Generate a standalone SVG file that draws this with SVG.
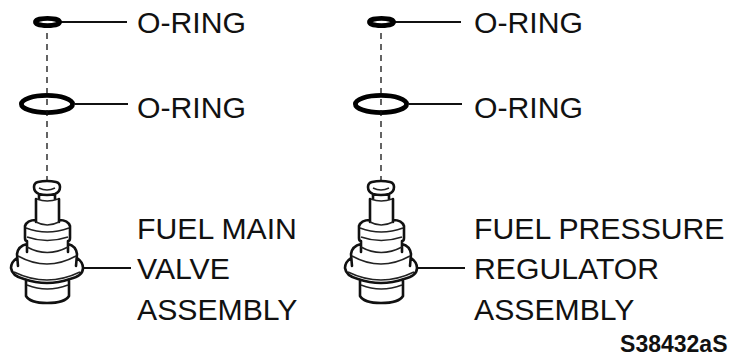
<svg xmlns="http://www.w3.org/2000/svg" width="731" height="356" viewBox="0 0 731 356">
<style>
text{font-family:"Liberation Sans",Arial,sans-serif;font-size:30.2px;fill:#111}
.code{font-size:23px;font-weight:bold}
.l{fill:none;stroke:#111;stroke-width:2.6;stroke-linecap:round;stroke-linejoin:round}
.t{fill:none;stroke:#222;stroke-width:1.5}
.lead{fill:none;stroke:#111;stroke-width:2}
.dash{fill:none;stroke:#111;stroke-width:1.3;stroke-dasharray:6 5}
.ring{fill:none;stroke:#000;stroke-width:4.800}
</style>
<defs>
<g id="valve">
<path class="l" d="M38 182Q47 180 56 182Q60 183 60 187Q60 192 55 194Q47 196 39 194Q34 192 34 187Q34 183 38 182ZM39 195L39 199M55 195L55 199M36 199L36 222M59 199L59 222M36 220Q27 220 25 226L25 238Q25 241 27 241L27 252M59 220Q68 220 70 226L70 238Q70 241 68 241L68 252M27 244Q18 246 17 254L18 266M68 244Q76 246 77 254L76 266M17 258Q11 262 11 268Q12 276 24 279Q47 287 70 279Q83 276 83 268Q83 262 77 258M26 281L26 296Q30 303 47 303Q65 303 69 296L69 281"/>
<path class="t" d="M39 188Q47 192 55 188M37 199Q47 203 58 199M36 222Q47 228 59 222M26 228Q47 236 69 228M27 237Q47 244 68 237M27 247Q47 258 68 247M18 256Q47 272 76 256M14 272Q47 288 80 272M27 285Q47 293 68 285"/>
</g>
<g id="rings">
<ellipse class="ring" cx="47.500" cy="22" rx="12" ry="3.600"/>
<ellipse class="ring" cx="47" cy="104" rx="25.600" ry="8.600"/>
<path class="dash" d="M47 33V182"/>
</g>
</defs>
<g id="connectors">
<path class="lead" d="M60 22H127M75 104H128M84 268H131"/>
<path class="lead" d="M394 22H461M409 104H462M418 268H465"/>
</g>
<g id="assembly-left">
<use href="#rings"/>
<use href="#valve"/>
</g>
<g id="assembly-right">
<use href="#rings" x="334"/>
<use href="#valve" x="334"/>
</g>
<g id="labels-left">
<text x="137" y="33">O-RING</text>
<text x="137" y="117.500">O-RING</text>
<text x="137" y="239">FUEL MAIN</text>
<text x="137" y="279">VALVE</text>
<text x="137" y="320">ASSEMBLY</text>
</g>
<g id="labels-right">
<text x="474" y="33">O-RING</text>
<text x="474" y="117.500">O-RING</text>
<text x="474" y="239">FUEL PRESSURE</text>
<text x="474" y="279">REGULATOR</text>
<text x="474" y="320">ASSEMBLY</text>
</g>
<text class="code" x="727.500" y="352" text-anchor="end">S38432aS</text>
</svg>
